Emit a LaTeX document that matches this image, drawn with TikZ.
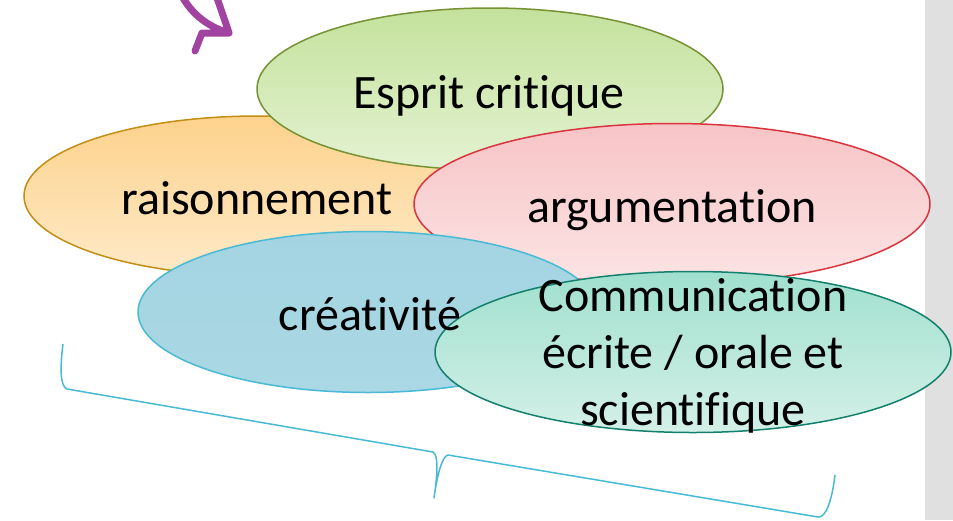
\documentclass[tikz,border=0pt]{standalone}
\usepackage{fontspec}
\setmainfont[Ligatures={NoCommon}]{Carlito}
\usetikzlibrary{shapes.geometric}
\definecolor{gbar}{RGB}{224,224,224}
\definecolor{grA}{RGB}{196,226,156}
\definecolor{grB}{RGB}{228,242,210}
\definecolor{grL}{RGB}{118,146,52}
\definecolor{orA}{RGB}{253,210,140}
\definecolor{orB}{RGB}{254,234,200}
\definecolor{orL}{RGB}{196,142,20}
\definecolor{rdA}{RGB}{247,196,198}
\definecolor{rdB}{RGB}{252,228,228}
\definecolor{rdL}{RGB}{218,52,62}
\definecolor{blA}{RGB}{164,212,226}
\definecolor{blB}{RGB}{170,216,228}
\definecolor{blL}{RGB}{72,186,212}
\definecolor{tlA}{RGB}{160,224,206}
\definecolor{tlB}{RGB}{212,240,232}
\definecolor{tlL}{RGB}{18,128,108}
\definecolor{arrP}{RGB}{145,35,145}
\tikzset{
  blob/.style={ellipse, inner sep=0pt, line width=1.5pt, shading angle=25},
  lbl/.style={anchor=base, font=\fontsize{48}{57}\selectfont, inner sep=0pt, text=black, align=center},
}
\begin{document}
\begin{tikzpicture}[x=1pt,y=-1pt]
\useasboundingbox (0,0) rectangle (953,520);
\fill[white] (0,0) rectangle (953,520);
\fill[gbar] (925,0) rectangle (953,520);
% purple hand-drawn arrow
\coordinate (pa1) at (183,-2);
\coordinate (ptip) at (229,33);
\coordinate (pa2) at (217,-2);
\coordinate (pa3) at (202,33);
\coordinate (pa4) at (195,51);
\draw[arrP, line width=7pt, line cap=round, line join=round, opacity=0.85]
  (pa1) .. controls (195,18) and (212,28) .. (ptip)
  (pa2) .. controls (222,12) and (226,24) .. (ptip)
  (ptip) -- (pa3) -- (pa4);
% ellipses
\node[blob, draw=orL, top color=orA, bottom color=orB, minimum width=468pt, minimum height=160pt] (rai) at (258,196) {};
\node[blob, draw=grL, top color=grA, bottom color=grB, minimum width=466pt, minimum height=162pt] (esp) at (490,89) {};
\node[blob, draw=rdL, top color=rdA, bottom color=rdB, minimum width=516pt, minimum height=161pt] (arg) at (672,204) {};
\node[blob, draw=blL, top color=blA, bottom color=blB, minimum width=460pt, minimum height=161pt] (cre) at (368,312) {};
\node[blob, draw=tlL, top color=tlA, bottom color=tlB, minimum width=516pt, minimum height=161pt] (com) at (693,352) {};
% labels
\node[lbl] (tesp) at (489,108) {Esprit critique};
\node[lbl] (trai) at (257,214) {raisonnement};
\node[lbl] (targ) at (672,222) {argumentation};
\node[lbl] (tcre) at (370,330) {créativité};
\node[lbl] (tcom1) at (693,311) {Communication};
\node[lbl] (tcom2) at (693,368) {écrite / orale et};
\node[lbl] (tcom3) at (693,425) {scientifique};
% brace
\coordinate (b1) at (63,344);
\coordinate (b2) at (67,389);
\coordinate (b3) at (433,452);
\coordinate (bm) at (434,498);
\coordinate (b4) at (448,455);
\coordinate (b5) at (818,517);
\coordinate (b6) at (835,475);
\draw[blL, line width=1.5pt, line join=round]
  (b1) .. controls (60,368) and (60,386) .. (b2) -- (b3)
  .. controls (439,455) and (437,478) .. (bm)
  .. controls (437,476) and (442,456) .. (b4) -- (b5)
  .. controls (826,518) and (832,500) .. (b6);
\end{tikzpicture}
\end{document}
